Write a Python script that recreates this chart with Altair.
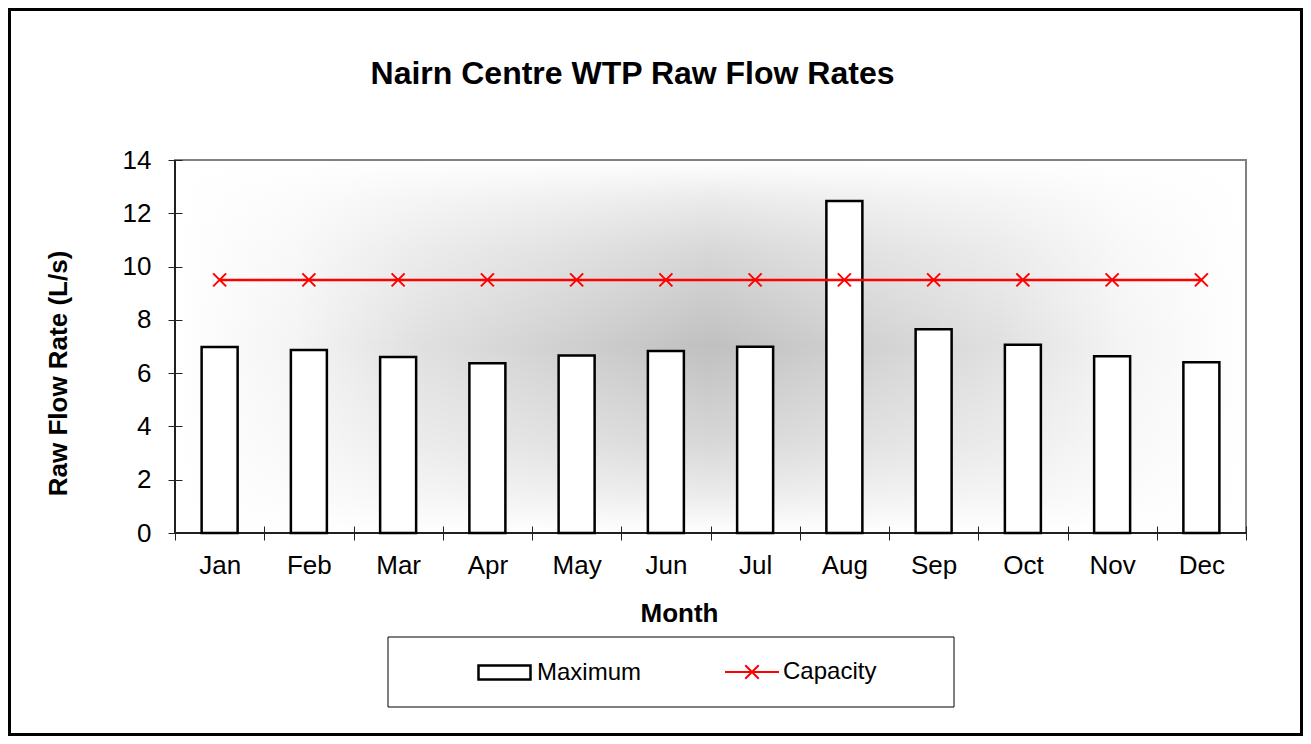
import altair as alt
import pandas as pd

# ---- data ----
months = ["Jan", "Feb", "Mar", "Apr", "May", "Jun", "Jul", "Aug", "Sep", "Oct", "Nov", "Dec"]
maximum = [6.98, 6.87, 6.61, 6.37, 6.66, 6.83, 6.99, 12.46, 7.65, 7.07, 6.63, 6.41]
capacity = [9.5, 9.5, 9.5, 9.5, 9.5, 9.5, 9.5, 9.5, 9.5, 9.5, 9.5, 9.5]
y_ticks = [0, 2, 4, 6, 8, 10, 12, 14]

W, H = 1071, 373
FONT = "Liberation Sans, Arial, sans-serif"

df = pd.DataFrame({
    "Month": months,
    "Maximum": maximum,
    "Capacity": capacity,
    "s1": ["Maximum"] * len(months),
    "s2": ["Capacity"] * len(months),
})
one = pd.DataFrame({"a": [0]})

x_enc = alt.X(
    "Month:N", sort=months,
    scale=alt.Scale(paddingInner=0, paddingOuter=0),
    axis=alt.Axis(
        title="Month", titleFont=FONT, titleFontSize=26, titleFontWeight="bold",
        titleColor="black", titleX=504, titleY=95, titleBaseline="alphabetic",
        labelFont=FONT, labelFontSize=26, labelColor="black", labelAngle=0,
        labelBaseline="alphabetic", labelPadding=33,
        tickBand="extent", tickSize=14, tickColor="#222", tickWidth=1,
        offset=-7, domain=False, grid=False, zindex=1,
    ),
)

y_axis = alt.Axis(
    title="Raw Flow Rate (L/s)", titleFont=FONT, titleFontSize=26, titleFontWeight="bold",
    titleColor="black", titleAngle=270, titleX=-116, titleY=213,
    titleAlign="center", titleBaseline="alphabetic",
    values=y_ticks, labelFont=FONT, labelFontSize=26, labelColor="black",
    labelPadding=17, labelFlush=False,
    tickSize=14, tickColor="#222", tickWidth=1,
    offset=-7, domain=False, grid=False, zindex=1,
)
y_scale = alt.Scale(domain=[0, 14], nice=False)

# background shading (horizontal gray band with a vertical white fade on top)
bg_h = alt.Chart(one).mark_rect(
    fill=alt.LinearGradient(
        gradient="linear", x1=0, y1=0, x2=1, y2=0,
        stops=[
            alt.GradientStop(color="#ffffff", offset=0),
            alt.GradientStop(color="#fbfbfb", offset=0.04),
            alt.GradientStop(color="#f4f4f4", offset=0.115),
            alt.GradientStop(color="#e0e0e0", offset=0.23),
            alt.GradientStop(color="#c0c0c0", offset=0.5),
            alt.GradientStop(color="#e0e0e0", offset=0.77),
            alt.GradientStop(color="#f4f4f4", offset=0.885),
            alt.GradientStop(color="#fbfbfb", offset=0.96),
            alt.GradientStop(color="#ffffff", offset=1),
        ],
    )
).encode(x=alt.value(0), x2=alt.value(W), y=alt.value(0), y2=alt.value(H))

bg_v = alt.Chart(one).mark_rect(
    fill=alt.LinearGradient(
        gradient="linear", x1=0, y1=0, x2=0, y2=1,
        stops=[
            alt.GradientStop(color="rgba(255,255,255,1)", offset=0),
            alt.GradientStop(color="rgba(255,255,255,0.92)", offset=0.025),
            alt.GradientStop(color="rgba(255,255,255,0.68)", offset=0.105),
            alt.GradientStop(color="rgba(255,255,255,0.38)", offset=0.24),
            alt.GradientStop(color="rgba(255,255,255,0)", offset=0.5),
            alt.GradientStop(color="rgba(255,255,255,0.38)", offset=0.76),
            alt.GradientStop(color="rgba(255,255,255,0.68)", offset=0.895),
            alt.GradientStop(color="rgba(255,255,255,0.92)", offset=0.975),
            alt.GradientStop(color="rgba(255,255,255,1)", offset=1),
        ],
    )
).encode(x=alt.value(0), x2=alt.value(W), y=alt.value(0), y2=alt.value(H))

frame = alt.Chart(one).mark_rect(
    fill="transparent", stroke="#808080", strokeWidth=2
).encode(x=alt.value(0), x2=alt.value(W), y=alt.value(0), y2=alt.value(H))

left_line = alt.Chart(one).mark_rule(color="black", strokeWidth=1.5).encode(
    x=alt.value(0), y=alt.value(0), y2=alt.value(H))
bottom_line = alt.Chart(one).mark_rule(color="black", strokeWidth=1.5).encode(
    x=alt.value(0), x2=alt.value(W), y=alt.value(H))

outer = alt.Chart(one).mark_rect(
    fill="transparent", stroke="black", strokeWidth=3
).encode(x=alt.value(-165.5), x2=alt.value(1126.5), y=alt.value(-150.5), y2=alt.value(574.5))

legend_box = alt.Chart(one).mark_rect(
    fill="white", stroke="black", strokeWidth=1
).encode(x=alt.value(213), x2=alt.value(779), y=alt.value(477), y2=alt.value(547))

bars = alt.Chart(df).mark_bar(
    width=36, stroke="black", strokeWidth=2.5
).encode(
    x=x_enc,
    y=alt.Y("Maximum:Q", scale=y_scale, axis=y_axis),
    fill=alt.Fill(
        "s1:N", scale=alt.Scale(domain=["Maximum"], range=["white"]),
        legend=alt.Legend(
            title=None, orient="none", legendX=302, legendY=485, padding=0,
            symbolType="M-1,-0.27H1V0.27H-1Z", symbolSize=2704,
            symbolStrokeColor="black", symbolStrokeWidth=2.5, symbolFillColor="white",
            labelFont=FONT, labelFontSize=24, labelColor="black", labelOffset=5,
        ),
    ),
)

line = alt.Chart(df).mark_line(strokeWidth=2.5).encode(
    x=x_enc,
    y=alt.Y("Capacity:Q", scale=y_scale, axis=y_axis),
    stroke=alt.Stroke(
        "s2:N", scale=alt.Scale(domain=["Capacity"], range=["#ff0000"]),
        legend=alt.Legend(
            title=None, orient="none", legendX=549, legendY=484, padding=0,
            symbolType="M-1,0H1M-0.25,-0.25L0.25,0.25M-0.25,0.25L0.25,-0.25",
            symbolSize=2916, symbolStrokeColor="#ff0000", symbolStrokeWidth=2,
            labelFont=FONT, labelFontSize=24, labelColor="black", labelOffset=3,
        ),
    ),
)

pts = alt.Chart(df).mark_point(
    shape="M-1,-1L1,1M-1,1L1,-1", size=169, filled=False,
    stroke="#ff0000", strokeWidth=2, opacity=1,
).encode(
    x=x_enc,
    y=alt.Y("Capacity:Q", scale=y_scale, axis=y_axis),
)

chart = alt.layer(
    outer, bg_h, bg_v, frame, legend_box, bars, line, pts, left_line, bottom_line
).properties(
    width=W, height=H,
    title=alt.TitleParams(
        "Nairn Centre WTP Raw Flow Rates", font=FONT, fontSize=32, fontWeight="bold",
        color="black", anchor="middle", dx=-78, offset=-108, baseline="alphabetic",
    ),
    autosize=alt.AutoSizeParams(type="none"),
    padding={"left": 167, "top": 152, "right": 57, "bottom": 203},
).configure_view(stroke=None)

chart.save("out.html", embed_options={"renderer": "svg", "actions": False})
